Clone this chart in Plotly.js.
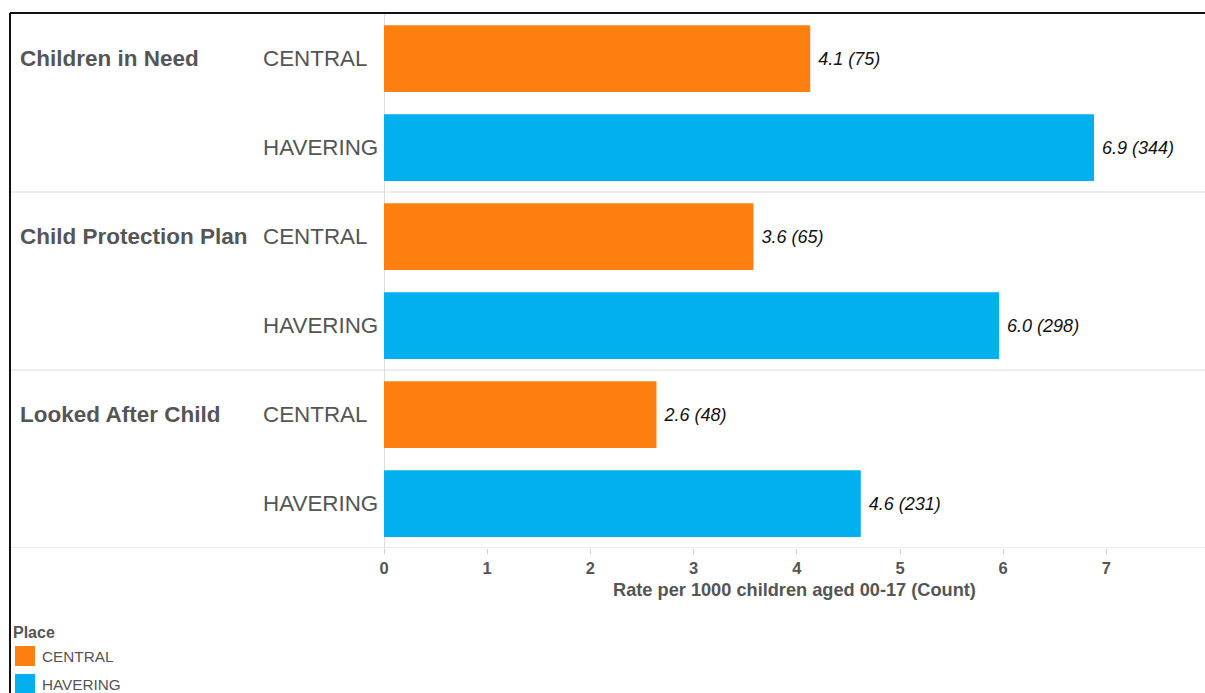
<!DOCTYPE html>
<html>
<head>
<meta charset="utf-8">
<script src="https://cdn.plot.ly/plotly-3.0.1.min.js"></script>
<style>html,body{margin:0;padding:0;background:#fff;}#chart{width:1205px;height:693px;}</style>
</head>
<body>
<div id="chart"></div>
<script>
// ---- data ----
const categories = ['Children in Need', 'Child Protection Plan', 'Looked After Child'];
const places = ['CENTRAL', 'HAVERING'];
const centralRates = [4.13, 3.58, 2.64];
const centralCounts = [75, 65, 48];
const haveringRates = [6.88, 5.96, 4.62];
const haveringCounts = [344, 298, 231];
const placeColors = ['#FD7F10', '#02B0EF'];
const xTitle = 'Rate per 1000 children aged 00-17 (Count)';
const legendTitle = 'Place';

// ---- layout helpers ----
const W = 1205, H = 693;
const M = {l: 384, r: 0, t: 14, b: 145};
const PW = W - M.l - M.r, PH = H - M.t - M.b;
const px2x = p => (p - M.l) / PW;
const py2y = p => (H - M.b - p) / PH;
const FONT = 'Liberation Sans, Arial, sans-serif';

const rowKeys = [];
categories.forEach(c => places.forEach(p => rowKeys.push(c + ' | ' + p)));

const series = [
  {rates: centralRates, counts: centralCounts},
  {rates: haveringRates, counts: haveringCounts}
];

const traces = places.map((p, k) => ({
  type: 'bar',
  orientation: 'h',
  name: p,
  y: categories.map(c => c + ' | ' + p),
  x: series[k].rates,
  customdata: series[k].counts,
  width: 0.75,
  marker: {color: placeColors[k], line: {width: 0}},
  texttemplate: ' %{x:.1f} (%{customdata})',
  textposition: 'outside',
  cliponaxis: false,
  textfont: {family: FONT, size: 18, color: '#111', style: 'italic'},
  hoverinfo: 'skip'
}));

const grey = '#555555';
const annotations = [];
const shapes = [];

// group and place labels
categories.forEach((c, i) => {
  annotations.push({
    xref: 'paper', yref: 'y', x: px2x(18), y: rowKeys.indexOf(c + ' | ' + places[0]),
    xanchor: 'left', yanchor: 'middle', showarrow: false,
    text: '<b>' + c + '</b>',
    font: {family: FONT, size: 22.5, color: grey}
  });
  places.forEach(p => {
    annotations.push({
      xref: 'paper', yref: 'y', x: px2x(261), y: rowKeys.indexOf(c + ' | ' + p),
      xanchor: 'left', yanchor: 'middle', showarrow: false,
      text: p,
      font: {family: FONT, size: 22.4, color: grey}
    });
  });
  // separator below each group
  const sepY = rowKeys.indexOf(c + ' | ' + places[places.length - 1]) + 0.5;
  shapes.push({type: 'line', xref: 'paper', yref: 'y', x0: px2x(10), x1: 1, y0: sepY, y1: sepY,
    line: {color: '#d9d9d9', width: 1.2}});
});

// frame lines
shapes.push({type: 'line', xref: 'paper', yref: 'paper', x0: px2x(10), x1: 1, y0: py2y(13), y1: py2y(13),
  line: {color: '#111', width: 2}});
shapes.push({type: 'line', xref: 'paper', yref: 'paper', x0: px2x(10), x1: px2x(10), y0: py2y(13), y1: py2y(H),
  line: {color: '#111', width: 2}});

// custom legend
annotations.push({
  xref: 'paper', yref: 'paper', x: px2x(11), y: py2y(632), xanchor: 'left', yanchor: 'middle',
  showarrow: false, text: '<b>' + legendTitle + '</b>',
  font: {family: FONT, size: 16, color: grey}
});
places.forEach((p, k) => {
  const top = 646 + k * 28;
  shapes.push({type: 'rect', xref: 'paper', yref: 'paper', x0: px2x(15), x1: px2x(35),
    y0: py2y(top), y1: py2y(top + 20), fillcolor: placeColors[k], line: {width: 0}});
  annotations.push({
    xref: 'paper', yref: 'paper', x: px2x(40), y: py2y(top + 10), xanchor: 'left', yanchor: 'middle',
    showarrow: false, text: p,
    font: {family: FONT, size: 15.3, color: grey}
  });
});

const layout = {
  width: W, height: H,
  margin: M,
  paper_bgcolor: '#fff', plot_bgcolor: '#fff',
  showlegend: false,
  barmode: 'overlay',
  xaxis: {
    range: [0, (W - M.l) / 103.2],
    dtick: 1, tick0: 0,
    showgrid: false,
    zeroline: true, zerolinecolor: '#dcdcdc', zerolinewidth: 1,
    showline: false,
    ticks: 'outside', ticklen: 5, tickcolor: '#cfcfcf', tickwidth: 1,
    tickfont: {family: FONT, size: 16.5, color: grey, weight: 'bold'},
    title: {text: '<b>' + xTitle + '</b>', standoff: 7,
      font: {family: FONT, size: 18.2, color: grey}},
    fixedrange: true
  },
  yaxis: {
    type: 'category',
    categoryorder: 'array', categoryarray: rowKeys,
    range: [rowKeys.length - 0.5, -0.5],
    showticklabels: false, showgrid: false, zeroline: false, ticks: '',
    fixedrange: true
  },
  annotations: annotations,
  shapes: shapes
};

Plotly.newPlot('chart', traces, layout, {displayModeBar: false, staticPlot: true});
</script>
</body>
</html>
